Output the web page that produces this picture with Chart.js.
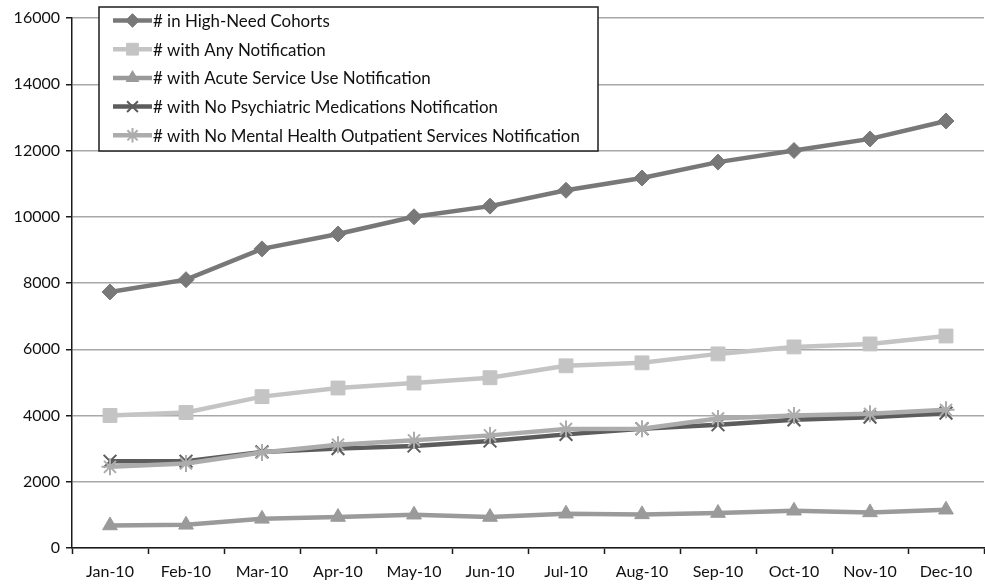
<!DOCTYPE html>
<html>
<head>
<meta charset="utf-8">
<script src="https://cdn.jsdelivr.net/npm/chart.js@4/dist/chart.umd.min.js"></script>
<style>
  html, body { margin: 0; padding: 0; background: #fff; overflow: hidden; }
  #wrap { width: 995px; height: 588px; }
</style>
</head>
<body>
<div id="wrap"><canvas id="c" width="995" height="588"></canvas></div>
<script>
// Monthly counts, 2010
const months = ['Jan-10','Feb-10','Mar-10','Apr-10','May-10','Jun-10','Jul-10','Aug-10','Sep-10','Oct-10','Nov-10','Dec-10'];

const highNeed      = [7730, 8100, 9030, 9480, 10000, 10320, 10800, 11170, 11650, 12000, 12350, 12890];
const anyNotif      = [4000, 4090, 4570, 4830, 4980, 5140, 5500, 5590, 5860, 6070, 6160, 6400];
const acuteNotif    = [680, 700, 880, 935, 1005, 935, 1035, 1015, 1055, 1125, 1075, 1155];
const noPsychMeds   = [2620, 2620, 2900, 3000, 3080, 3230, 3430, 3600, 3720, 3870, 3950, 4070];
const noMhOutpt     = [2450, 2550, 2880, 3120, 3250, 3400, 3590, 3600, 3910, 4000, 4050, 4170];

const seriesNames = [
  '# in High-Need Cohorts',
  '# with Any Notification',
  '# with Acute Service Use Notification',
  '# with No Psychiatric Medications Notification',
  '# with No Mental Health Outpatient Services Notification'
];

const yTicks = { min: 0, max: 16000, step: 2000 };

const FONT = 'Lato, "Open Sans", sans-serif';
const TEXT = '#111';

function series(i, data, color, style, radius, filled) {
  return {
    label: seriesNames[i],
    data: data,
    borderColor: color,
    backgroundColor: color,
    borderWidth: 4.5,
    pointStyle: style,
    pointRadius: radius,
    pointHoverRadius: radius,
    pointBackgroundColor: filled ? color : 'rgba(0,0,0,0)',
    pointBorderColor: color,
    pointBorderWidth: filled ? 1 : 2,
    tension: 0,
    order: 5 - i
  };
}

const datasets = [
  series(0, highNeed,    '#787878', 'rectRot',  8,   true),
  series(1, anyNotif,    '#c4c4c4', 'rect',     9.8, true),
  series(2, acuteNotif,  '#9a9a9a', 'triangle', 8.5, true),
  series(3, noPsychMeds, '#5c5c5c', 'crossRot', 9,   false),
  series(4, noMhOutpt,   '#acacac', 'star',     8.5, false)
];

// Boxed legend drawn inside the plot area
const boxLegend = {
  id: 'boxLegend',
  afterDraw(chart) {
    const ctx = chart.ctx;
    const x0 = 99, y0 = 7, w = 499, h = 144;
    ctx.save();
    ctx.fillStyle = '#fff';
    ctx.fillRect(x0, y0, w, h);
    ctx.strokeStyle = '#1e1e1e';
    ctx.lineWidth = 1.5;
    ctx.strokeRect(x0, y0, w, h);
    // size the labels so the longest one fits its slot
    ctx.font = '16px ' + FONT;
    const longest = Math.max(...chart.data.datasets.map(d => ctx.measureText(d.label).width));
    const size = 16 * 427 / longest;
    ctx.font = size.toFixed(2) + 'px ' + FONT;
    ctx.textBaseline = 'middle';
    ctx.textAlign = 'left';
    chart.data.datasets.forEach((d, i) => {
      const cy = 20.5 + i * 28.7;
      ctx.strokeStyle = d.borderColor;
      ctx.lineWidth = 4.5;
      ctx.beginPath();
      ctx.moveTo(113, cy);
      ctx.lineTo(152, cy);
      ctx.stroke();
      ctx.fillStyle = d.pointBackgroundColor;
      ctx.strokeStyle = d.pointBorderColor;
      ctx.lineWidth = d.pointBorderWidth;
      Chart.helpers.drawPoint(ctx, { pointStyle: d.pointStyle, radius: d.pointRadius * 0.85, rotation: 0, borderWidth: d.pointBorderWidth }, 132.5, cy);
      ctx.fillStyle = TEXT;
      ctx.fillText(d.label, 153, cy + 1);
    });
    ctx.restore();
  }
};

new Chart(document.getElementById('c'), {
  type: 'line',
  data: { labels: months, datasets: datasets },
  plugins: [boxLegend],
  options: {
    responsive: false,
    animation: false,
    events: [],
    layout: { padding: { top: 18, right: 6, left: 0, bottom: 0 } },
    plugins: { legend: { display: false }, tooltip: { enabled: false } },
    scales: {
      x: {
        offset: true,
        afterFit(s) { s.height = 40; },
        grid: { drawOnChartArea: false, drawTicks: true, tickLength: 6, tickColor: '#1a1a1a', tickWidth: 1.5, offset: true },
        border: { display: true, color: '#1a1a1a', width: 1.5 },
        ticks: { color: TEXT, font: { family: FONT, size: 16 }, padding: 8, maxRotation: 0, autoSkip: false }
      },
      y: {
        min: yTicks.min,
        max: yTicks.max,
        afterFit(s) { s.width = 72; },
        grid: { color: '#a8a8a8', lineWidth: 1.5, tickLength: 6, tickColor: '#1a1a1a', tickWidth: 1.5 },
        border: { display: true, color: '#1a1a1a', width: 1.5 },
        ticks: { stepSize: yTicks.step, color: TEXT, font: { family: FONT, size: 16 }, padding: 6, callback: v => String(v) }
      }
    }
  }
});
</script>
</body>
</html>
